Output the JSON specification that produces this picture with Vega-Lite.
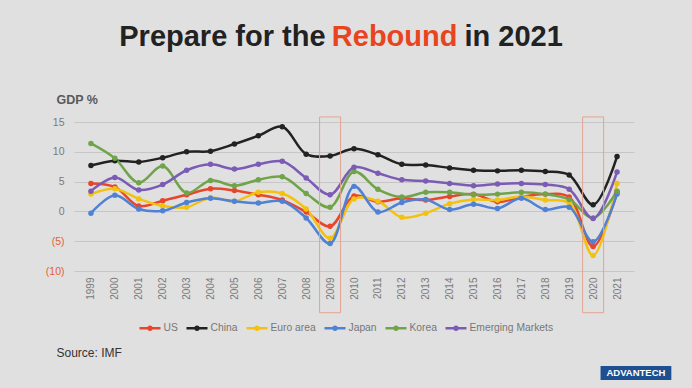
{
  "$schema": "https://vega.github.io/schema/vega-lite/v6.json",
  "width": 560,
  "height": 149,
  "autosize": {"type": "none"},
  "padding": {"left": 74, "top": 122, "right": 58, "bottom": 117},
  "background": "#e0e0e0",
  "config": {
    "view": {"stroke": null},
    "font": "Liberation Sans",
    "axisX": {"labelAngle": -90, "labelFontSize": 10, "labelColor": "#7a7a7a", "labelPadding": 6, "labelOverlap": false, "labelFlush": false, "labelBound": false, "domain": false, "ticks": false, "grid": false, "titleFontSize": 12, "titleFontWeight": "normal", "titleColor": "#333333"},
    "axisY": {"labelFontSize": 10.5, "labelPadding": 10, "labelOverlap": false, "labelFlush": false, "labelBound": false, "domain": false, "ticks": false, "grid": true, "gridColor": "#c6c6c6", "gridWidth": 1, "titleFontSize": 12.5, "titleFontWeight": "bold", "titleColor": "#595959"}
  },
  "datasets": {
    "gdp": [
      {"year":1999,"series":"US","value":4.7},{"year":2000,"series":"US","value":4.1},{"year":2001,"series":"US","value":0.9},{"year":2002,"series":"US","value":1.8},{"year":2003,"series":"US","value":2.8},{"year":2004,"series":"US","value":3.8},{"year":2005,"series":"US","value":3.5},{"year":2006,"series":"US","value":2.8},{"year":2007,"series":"US","value":1.9},{"year":2008,"series":"US","value":-0.1},{"year":2009,"series":"US","value":-2.5},{"year":2010,"series":"US","value":2.6},{"year":2011,"series":"US","value":1.6},{"year":2012,"series":"US","value":2.2},{"year":2013,"series":"US","value":1.9},{"year":2014,"series":"US","value":2.5},{"year":2015,"series":"US","value":2.9},{"year":2016,"series":"US","value":1.6},{"year":2017,"series":"US","value":2.4},{"year":2018,"series":"US","value":2.9},{"year":2019,"series":"US","value":2.4},{"year":2020,"series":"US","value":-5.9},{"year":2021,"series":"US","value":3.2},
      {"year":1999,"series":"China","value":7.7},{"year":2000,"series":"China","value":8.5},{"year":2001,"series":"China","value":8.3},{"year":2002,"series":"China","value":9.0},{"year":2003,"series":"China","value":10.0},{"year":2004,"series":"China","value":10.1},{"year":2005,"series":"China","value":11.3},{"year":2006,"series":"China","value":12.7},{"year":2007,"series":"China","value":14.2},{"year":2008,"series":"China","value":9.6},{"year":2009,"series":"China","value":9.3},{"year":2010,"series":"China","value":10.5},{"year":2011,"series":"China","value":9.5},{"year":2012,"series":"China","value":7.9},{"year":2013,"series":"China","value":7.8},{"year":2014,"series":"China","value":7.3},{"year":2015,"series":"China","value":6.9},{"year":2016,"series":"China","value":6.8},{"year":2017,"series":"China","value":6.9},{"year":2018,"series":"China","value":6.7},{"year":2019,"series":"China","value":6.1},{"year":2020,"series":"China","value":1.1},{"year":2021,"series":"China","value":9.2},
      {"year":1999,"series":"Euro area","value":2.9},{"year":2000,"series":"Euro area","value":3.8},{"year":2001,"series":"Euro area","value":2.1},{"year":2002,"series":"Euro area","value":0.9},{"year":2003,"series":"Euro area","value":0.7},{"year":2004,"series":"Euro area","value":2.3},{"year":2005,"series":"Euro area","value":1.7},{"year":2006,"series":"Euro area","value":3.2},{"year":2007,"series":"Euro area","value":3.0},{"year":2008,"series":"Euro area","value":0.4},{"year":2009,"series":"Euro area","value":-4.5},{"year":2010,"series":"Euro area","value":2.1},{"year":2011,"series":"Euro area","value":1.7},{"year":2012,"series":"Euro area","value":-1.0},{"year":2013,"series":"Euro area","value":-0.3},{"year":2014,"series":"Euro area","value":1.3},{"year":2015,"series":"Euro area","value":2.0},{"year":2016,"series":"Euro area","value":1.9},{"year":2017,"series":"Euro area","value":2.5},{"year":2018,"series":"Euro area","value":1.9},{"year":2019,"series":"Euro area","value":1.4},{"year":2020,"series":"Euro area","value":-7.4},{"year":2021,"series":"Euro area","value":4.7},
      {"year":1999,"series":"Japan","value":-0.3},{"year":2000,"series":"Japan","value":2.7},{"year":2001,"series":"Japan","value":0.4},{"year":2002,"series":"Japan","value":0.1},{"year":2003,"series":"Japan","value":1.5},{"year":2004,"series":"Japan","value":2.2},{"year":2005,"series":"Japan","value":1.7},{"year":2006,"series":"Japan","value":1.4},{"year":2007,"series":"Japan","value":1.7},{"year":2008,"series":"Japan","value":-1.1},{"year":2009,"series":"Japan","value":-5.4},{"year":2010,"series":"Japan","value":4.2},{"year":2011,"series":"Japan","value":-0.1},{"year":2012,"series":"Japan","value":1.5},{"year":2013,"series":"Japan","value":2.0},{"year":2014,"series":"Japan","value":0.3},{"year":2015,"series":"Japan","value":1.2},{"year":2016,"series":"Japan","value":0.5},{"year":2017,"series":"Japan","value":2.2},{"year":2018,"series":"Japan","value":0.3},{"year":2019,"series":"Japan","value":0.7},{"year":2020,"series":"Japan","value":-5.1},{"year":2021,"series":"Japan","value":2.9},
      {"year":1999,"series":"Korea","value":11.4},{"year":2000,"series":"Korea","value":8.9},{"year":2001,"series":"Korea","value":4.8},{"year":2002,"series":"Korea","value":7.6},{"year":2003,"series":"Korea","value":3.1},{"year":2004,"series":"Korea","value":5.2},{"year":2005,"series":"Korea","value":4.3},{"year":2006,"series":"Korea","value":5.3},{"year":2007,"series":"Korea","value":5.8},{"year":2008,"series":"Korea","value":3.0},{"year":2009,"series":"Korea","value":0.7},{"year":2010,"series":"Korea","value":6.7},{"year":2011,"series":"Korea","value":3.7},{"year":2012,"series":"Korea","value":2.4},{"year":2013,"series":"Korea","value":3.2},{"year":2014,"series":"Korea","value":3.2},{"year":2015,"series":"Korea","value":2.8},{"year":2016,"series":"Korea","value":2.9},{"year":2017,"series":"Korea","value":3.2},{"year":2018,"series":"Korea","value":2.9},{"year":2019,"series":"Korea","value":2.0},{"year":2020,"series":"Korea","value":-1.1},{"year":2021,"series":"Korea","value":3.4},
      {"year":1999,"series":"Emerging Markets","value":3.4},{"year":2000,"series":"Emerging Markets","value":5.7},{"year":2001,"series":"Emerging Markets","value":3.6},{"year":2002,"series":"Emerging Markets","value":4.5},{"year":2003,"series":"Emerging Markets","value":6.9},{"year":2004,"series":"Emerging Markets","value":7.9},{"year":2005,"series":"Emerging Markets","value":7.1},{"year":2006,"series":"Emerging Markets","value":7.9},{"year":2007,"series":"Emerging Markets","value":8.4},{"year":2008,"series":"Emerging Markets","value":5.6},{"year":2009,"series":"Emerging Markets","value":2.8},{"year":2010,"series":"Emerging Markets","value":7.4},{"year":2011,"series":"Emerging Markets","value":6.4},{"year":2012,"series":"Emerging Markets","value":5.3},{"year":2013,"series":"Emerging Markets","value":5.1},{"year":2014,"series":"Emerging Markets","value":4.7},{"year":2015,"series":"Emerging Markets","value":4.3},{"year":2016,"series":"Emerging Markets","value":4.6},{"year":2017,"series":"Emerging Markets","value":4.7},{"year":2018,"series":"Emerging Markets","value":4.5},{"year":2019,"series":"Emerging Markets","value":3.7},{"year":2020,"series":"Emerging Markets","value":-1.2},{"year":2021,"series":"Emerging Markets","value":6.6}
    ],
    "boxes": [{"year": 2009}, {"year": 2020}]
  },
  "layer": [
    {
      "data": {"name": "gdp"},
      "mark": {"type": "line", "interpolate": "catmull-rom", "strokeWidth": 2.5, "point": {"filled": true, "size": 30, "opacity": 1}},
      "encoding": {
        "x": {
          "field": "year", "type": "quantitative",
          "scale": {"domain": [1998.5, 2021.5], "nice": false, "zero": false},
          "axis": {
            "values": [1999,2000,2001,2002,2003,2004,2005,2006,2007,2008,2009,2010,2011,2012,2013,2014,2015,2016,2017,2018,2019,2020,2021],
            "tickCount": 40,
            "format": "d",
            "title": "Source: IMF", "titleX": -18, "titleY": 85, "titleAlign": "left", "titleBaseline": "alphabetic"
          }
        },
        "y": {
          "field": "value", "type": "quantitative",
          "scale": {"domain": [-10, 15], "nice": false, "zero": false},
          "axis": {
            "values": [-10, -5, 0, 5, 10, 15],
            "tickCount": 12,
            "labelExpr": "datum.value < 0 ? '(' + abs(datum.value) + ')' : datum.label",
            "labelColor": {"condition": {"test": "datum.value < 0", "value": "#e0603a"}, "value": "#7a7a7a"},
            "title": "GDP %", "titleAngle": 0, "titleX": -18, "titleY": -19, "titleAlign": "left", "titleBaseline": "alphabetic"
          }
        },
        "color": {
          "field": "series", "type": "nominal",
          "scale": {
            "domain": ["US", "China", "Euro area", "Japan", "Korea", "Emerging Markets"],
            "range": ["#e8452b", "#222222", "#f2c20f", "#4f81d4", "#6fa44a", "#7b5bb5"]
          },
          "legend": {
            "orient": "none", "legendX": 64, "legendY": 194, "direction": "horizontal", "title": null,
            "symbolType": "M-1,0H1M-0.15,0A0.15,0.15,0,1,0,0.15,0A0.15,0.15,0,1,0,-0.15,0Z",
            "symbolSize": 441, "symbolStrokeWidth": 2.5,
            "labelFontSize": 10.3, "labelColor": "#777777", "labelOffset": 1.5, "columnPadding": 3,
            "encode": {"symbols": {"update": {"fill": {"scale": "color", "field": "value"}, "stroke": {"scale": "color", "field": "value"}, "opacity": {"value": 1}}}}
          }
        }
      }
    },
    {
      "data": {"name": "boxes"},
      "mark": {"type": "bar", "width": 21, "fill": null, "fillOpacity": 0, "stroke": "#e2a391", "strokeWidth": 1},
      "encoding": {
        "x": {"field": "year", "type": "quantitative"},
        "y": {"datum": 15.85},
        "y2": {"datum": -17.0}
      }
    },
    {
      "data": {"values": [{"t": "Prepare for the"}]},
      "mark": {"type": "text", "align": "right", "baseline": "alphabetic", "fontSize": 29, "fontWeight": "bold", "color": "#222222"},
      "encoding": {"x": {"datum": 2008.81}, "y": {"datum": 27.75}, "text": {"field": "t"}}
    },
    {
      "data": {"values": [{"t": "Rebound"}]},
      "mark": {"type": "text", "align": "center", "baseline": "alphabetic", "fontSize": 29, "fontWeight": "bold", "color": "#e8451f"},
      "encoding": {"x": {"datum": 2011.7}, "y": {"datum": 27.75}, "text": {"field": "t"}}
    },
    {
      "data": {"values": [{"t": "in 2021"}]},
      "mark": {"type": "text", "align": "left", "baseline": "alphabetic", "fontSize": 29, "fontWeight": "bold", "color": "#222222"},
      "encoding": {"x": {"datum": 2014.62}, "y": {"datum": 27.75}, "text": {"field": "t"}}
    },
    {
      "data": {"values": [{}]},
      "mark": {"type": "rect", "color": "#1d4f91"},
      "encoding": {"x": {"datum": 2020.31}, "x2": {"datum": 2023.27}, "y": {"datum": -25.94}, "y2": {"datum": -28.3}}
    },
    {
      "data": {"values": [{"t": "ADVANTECH"}]},
      "mark": {"type": "text", "align": "center", "baseline": "middle", "fontSize": 9.5, "fontWeight": "bold", "color": "#ffffff"},
      "encoding": {"x": {"datum": 2021.79}, "y": {"datum": -27.1}, "text": {"field": "t"}}
    }
  ]
}
